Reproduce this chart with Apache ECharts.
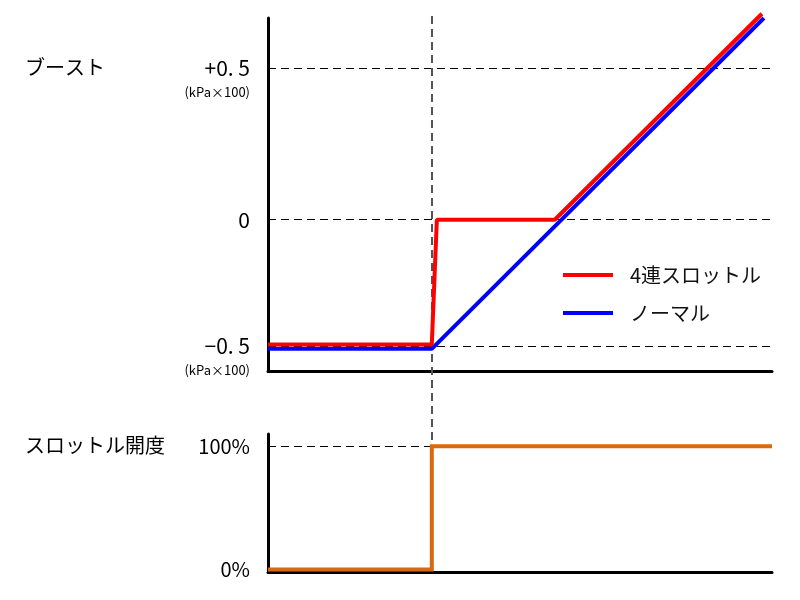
<!DOCTYPE html>
<html>
<head>
<meta charset="utf-8">
<script src="https://cdn.jsdelivr.net/npm/echarts@6/dist/echarts.min.js"></script>
<style>
	html, body { margin: 0; padding: 0; background: #fff; }
	#chart { width: 800px; height: 600px; }
</style>
</head>
<body>
<div id="chart"></div>
<script>
// boost axis: the original draws +0.5 further from 0 than -0.5, so its tick sits at 0.6
var boostTicks = [-0.5, 0, 0.6];
var boostTickLabels = ['−0. 5', '0', '+0. 5'];
var boostTickUnits = ['(kPa×100)', '', '(kPa×100)'];
var throttleTicks = [0, 100];
var throttleTickLabels = ['0%', '100%'];

var seriesNames = ['4連スロットル', 'ノーマル', 'スロットル開度'];
var quadThrottle = [[0, -0.495], [32.5, -0.495], [33.5, 0], [56.9, 0], [98.0, 0.817]];
var normal = [[0, -0.512], [32.5, -0.512], [98.4, 0.80]];
var throttleOpen = [[0, 0], [32.5, 0], [32.5, 100], [100, 100]];
var openTime = 32.5;

var font = '"Noto Sans CJK JP", "Noto Sans", sans-serif';

function dashLine(color, width) {
	return { color: color, width: width, type: [8, 5] };
}

function guide(data, color, width) {
	return {
		silent: true, z: 1, symbol: ['none', 'none'], label: { show: false },
		emphasis: { disabled: true },
		lineStyle: dashLine(color, width),
		data: data
	};
}

function boostLabel(v) {
	var i = boostTicks.indexOf(v);
	if (i < 0) return '';
	if (!boostTickUnits[i]) return '{m|' + boostTickLabels[i] + '}';
	return '{s|}\n{m|' + boostTickLabels[i] + '}\n{u|' + boostTickUnits[i] + '}';
}

function throttleLabel(v) {
	var i = throttleTicks.indexOf(v);
	return i < 0 ? '' : throttleTickLabels[i];
}

var option = {
	animation: false,
	backgroundColor: '#fff',
	textStyle: { fontFamily: font },
	grid: [
		{ left: 268, top: 18, width: 504, height: 353 },
		{ left: 268, top: 434, width: 504, height: 138 },
		{ left: 268, top: 15, width: 504, height: 555 }
	],
	legend: {
		data: [seriesNames[0], seriesNames[1]],
		orient: 'vertical',
		left: 558,
		top: 260,
		icon: 'rect',
		itemWidth: 50,
		itemHeight: 4,
		itemGap: 18,
		textStyle: { fontFamily: font, fontSize: 20, lineHeight: 20, color: '#111', padding: [0, 0, 0, 12] }
	},
	graphic: [
		{ type: 'text', left: 25, top: 57, style: { text: 'ブースト', fontFamily: font, fontSize: 20, fill: '#000' } },
		{ type: 'text', left: 25, top: 435, style: { text: 'スロットル開度', fontFamily: font, fontSize: 20, fill: '#000' } }
	],
	xAxis: [
		{
			gridIndex: 0, type: 'value', min: 0, max: 100,
			axisLine: { onZero: false, lineStyle: { color: '#000', width: 3 } },
			axisTick: { show: false }, axisLabel: { show: false }, splitLine: { show: false }
		},
		{
			gridIndex: 1, type: 'value', min: 0, max: 100,
			axisLine: { onZero: false, lineStyle: { color: '#000', width: 3 } },
			axisTick: { show: false }, axisLabel: { show: false }, splitLine: { show: false }
		},
		{ gridIndex: 2, type: 'value', min: 0, max: 100, show: false }
	],
	yAxis: [
		{
			gridIndex: 0, type: 'value', min: -0.6, max: 0.8,
			axisLine: { show: true, onZero: false, lineStyle: { color: '#000', width: 3 } },
			axisTick: { show: false },
			splitLine: { show: false },
			axisLabel: {
				customValues: boostTicks,
				margin: 18,
				formatter: boostLabel,
				rich: {
					s: { fontSize: 13, lineHeight: 24 },
					m: { fontFamily: font, fontSize: 21, lineHeight: 24, color: '#000' },
					u: { fontFamily: font, fontSize: 13, lineHeight: 24, color: '#000' }
				}
			}
		},
		{
			gridIndex: 1, type: 'value', min: -2, max: 110,
			axisLine: { show: true, onZero: false, lineStyle: { color: '#000', width: 3 } },
			axisTick: { show: false },
			splitLine: { show: false },
			axisLabel: {
				customValues: throttleTicks,
				margin: 18,
				formatter: throttleLabel,
				fontFamily: font, fontSize: 20, color: '#000'
			}
		},
		{ gridIndex: 2, type: 'value', min: 0, max: 1, show: false }
	],
	series: [
		{
			name: 'boostGrid', type: 'line', xAxisIndex: 0, yAxisIndex: 0,
			data: [], silent: true, z: 1,
			markLine: guide(boostTicks.map(function(v) { return { yAxis: v }; }), '#000', 1.2)
		},
		{
			name: 'throttleGrid', type: 'line', xAxisIndex: 1, yAxisIndex: 1,
			data: [], silent: true, z: 1,
			markLine: guide([{ yAxis: throttleTicks[1] }], '#000', 1.2)
		},
		{
			name: 'openTime', type: 'line', xAxisIndex: 2, yAxisIndex: 2,
			data: [], silent: true, z: 1,
			markLine: guide([{ xAxis: openTime }], '#555', 2)
		},
		{
			name: seriesNames[1], type: 'line', xAxisIndex: 0, yAxisIndex: 0,
			data: normal, symbol: 'none', clip: false, z: 6,
			itemStyle: { color: '#0000ff' },
			lineStyle: { color: '#0000ff', width: 4 }
		},
		{
			name: seriesNames[0], type: 'line', xAxisIndex: 0, yAxisIndex: 0,
			data: quadThrottle, symbol: 'none', clip: false, z: 7,
			itemStyle: { color: '#ff0000' },
			lineStyle: { color: '#ff0000', width: 4 }
		},
		{
			name: seriesNames[2], type: 'line', xAxisIndex: 1, yAxisIndex: 1,
			data: throttleOpen, symbol: 'none', clip: false, z: 6,
			itemStyle: { color: '#d9690f' },
			lineStyle: { color: '#d9690f', width: 4, join: 'miter' }
		}
	]
};

var myChart = echarts.init(document.getElementById('chart'));
myChart.setOption(option);
</script>
</body>
</html>
